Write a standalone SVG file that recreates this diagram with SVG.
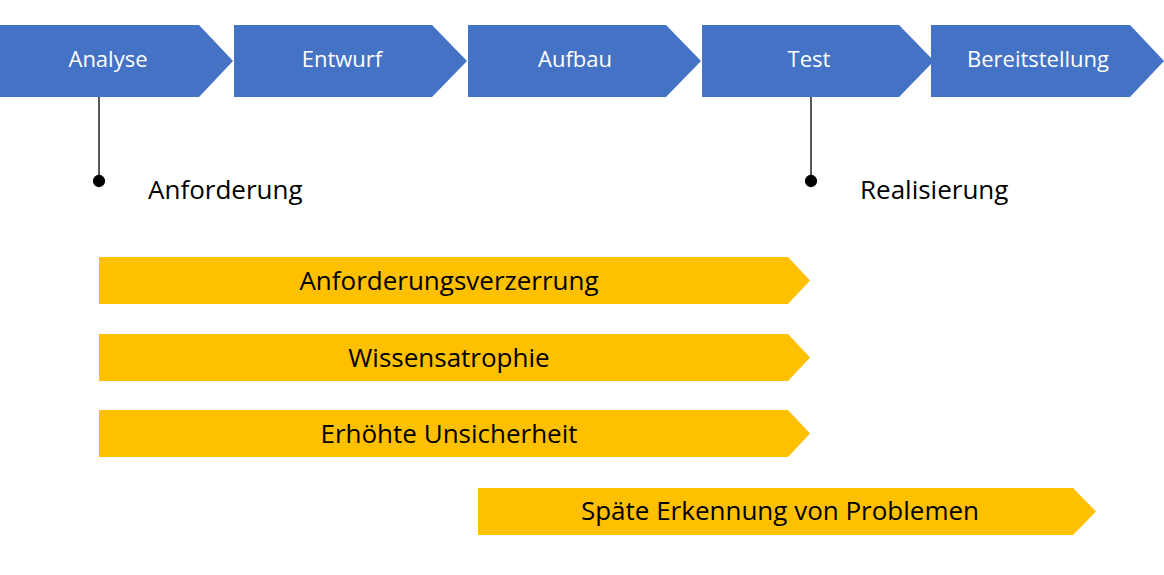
<svg xmlns="http://www.w3.org/2000/svg" width="1164" height="575" viewBox="0 0 1164 575">
<style>
.b{fill:#4472c4}.o{fill:#ffc000}
.bt{font-family:"Open Sans","Liberation Sans",sans-serif;font-size:22px;fill:#fff;text-anchor:middle}
.ot{font-family:"Open Sans","Liberation Sans",sans-serif;font-size:26px;fill:#000;text-anchor:middle}
.lt{font-family:"Open Sans","Liberation Sans",sans-serif;font-size:26px;fill:#000}
</style>
<rect width="1164" height="575" fill="#fff"/>
<g id="analyse"><polygon class="b" points="0,25 199,25 233,61 199,97 0,97"/><text class="bt" x="108" y="67">Analyse</text></g>
<g id="entwurf"><polygon class="b" points="234,25 432,25 467,61 432,97 234,97"/><text class="bt" x="342" y="67">Entwurf</text></g>
<g id="aufbau"><polygon class="b" points="468,25 666,25 701,61 666,97 468,97"/><text class="bt" x="575" y="67">Aufbau</text></g>
<g id="test"><polygon class="b" points="702,25 899,25 934,61 899,97 702,97"/><text class="bt" x="809" y="67">Test</text></g>
<g id="bereitstellung"><polygon class="b" points="931,25 1130,25 1164,61 1130,97 931,97"/><text class="bt" x="1038" y="67">Bereitstellung</text></g>
<g id="connectors" stroke="#000" stroke-width="1.3">
<line x1="99" y1="97" x2="99" y2="181"/><circle cx="99" cy="181" r="5.5" fill="#000"/>
<line x1="811" y1="97" x2="811" y2="181"/><circle cx="811" cy="181" r="5.5" fill="#000"/>
</g>
<g id="anforderung"><text class="lt" x="148" y="199">Anforderung</text></g>
<g id="realisierung"><text class="lt" x="860" y="199">Realisierung</text></g>
<g id="r1"><polygon class="o" points="99,257 788,257 810,280.5 788,304 99,304"/><text class="ot" x="449" y="290">Anforderungsverzerrung</text></g>
<g id="r2"><polygon class="o" points="99,334 788,334 810,357.5 788,381 99,381"/><text class="ot" x="449" y="367">Wissensatrophie</text></g>
<g id="r3"><polygon class="o" points="99,410 788,410 810,433.5 788,457 99,457"/><text class="ot" x="449" y="443">Erhöhte Unsicherheit</text></g>
<g id="r4"><polygon class="o" points="478,488 1073,488 1096,511.5 1073,535 478,535"/><text class="ot" x="780" y="520">Späte Erkennung von Problemen</text></g>
</svg>
